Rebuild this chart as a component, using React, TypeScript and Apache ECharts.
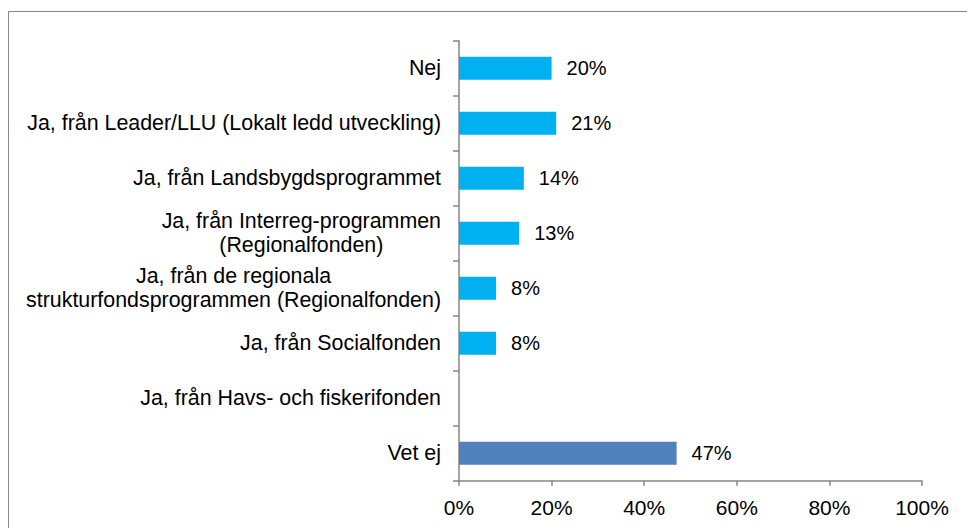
import React, { useEffect, useRef } from "react";
import * as echarts from "echarts";

const categories: string[] = [
  "Nej",
  "Ja, från Leader/LLU (Lokalt ledd utveckling)",
  "Ja, från Landsbygdsprogrammet",
  "Ja, från Interreg-programmen\n(Regionalfonden)",
  "Ja, från de regionala\nstrukturfondsprogrammen (Regionalfonden)",
  "Ja, från Socialfonden",
  "Ja, från Havs- och fiskerifonden",
  "Vet ej",
];
const values: number[] = [20, 21, 14, 13, 8, 8, 0, 47];
const barColors: string[] = [
  "#00B0F0",
  "#00B0F0",
  "#00B0F0",
  "#00B0F0",
  "#00B0F0",
  "#00B0F0",
  "#00B0F0",
  "#4F81BD",
];
const xTicks: number[] = [0, 20, 40, 60, 80, 100];

const FONT = "'Liberation Sans', Arial, sans-serif";
const AXIS_COLOR = "#868686";

export default function App() {
  const ref = useRef<HTMLDivElement>(null);
  useEffect(() => {
    document.body.style.margin = "0";
    if (!ref.current) return;
    const chart = echarts.init(ref.current, undefined, { renderer: "svg" });
    chart.setOption({
      animation: false,
      backgroundColor: "#ffffff",
      textStyle: { fontFamily: FONT },
      graphic: [
        {
          type: "rect",
          shape: { x: 8.5, y: 11.5, width: 1200, height: 1200 },
          style: { fill: "none", stroke: AXIS_COLOR, lineWidth: 1 },
          silent: true,
        },
      ],
      grid: { left: 459, top: 40.7, width: 463, height: 440, containLabel: false },
      xAxis: {
        type: "value",
        min: xTicks[0],
        max: xTicks[xTicks.length - 1],
        interval: xTicks[1] - xTicks[0],
        axisLine: { show: true, lineStyle: { color: AXIS_COLOR, width: 1.5 } },
        axisTick: { show: true, length: 5, lineStyle: { color: AXIS_COLOR, width: 1.5 } },
        splitLine: { show: false },
        axisLabel: {
          formatter: "{value}%",
          color: "#000",
          fontSize: 21,
          fontFamily: FONT,
          margin: 16,
        },
      },
      yAxis: {
        type: "category",
        data: categories,
        inverse: true,
        axisLine: { show: true, lineStyle: { color: AXIS_COLOR, width: 1.5 } },
        axisTick: { show: true, length: 6, lineStyle: { color: AXIS_COLOR, width: 1.5 } },
        axisLabel: {
          margin: 18,
          align: "right",
          formatter: (v: string) =>
            v
              .split("\n")
              .map((l) => "{c|" + l + "}")
              .join("\n"),
          rich: {
            c: {
              align: "center",
              fontSize: 21.4,
              lineHeight: 24,
              color: "#000",
              fontFamily: FONT,
            },
          },
        },
      },
      series: [
        {
          type: "bar",
          barWidth: 23,
          data: values.map((v, i) => ({
            value: v,
            itemStyle: { color: barColors[i] },
            label: { show: v > 0 },
          })),
          label: {
            show: true,
            position: "right",
            distance: 15,
            formatter: "{c}%",
            color: "#000",
            fontSize: 20,
            fontFamily: FONT,
          },
        },
      ],
    });
    return () => chart.dispose();
  }, []);
  return (
    <div
      ref={ref}
      style={{ width: 967, height: 528, overflow: "hidden", position: "relative" }}
    />
  );
}
